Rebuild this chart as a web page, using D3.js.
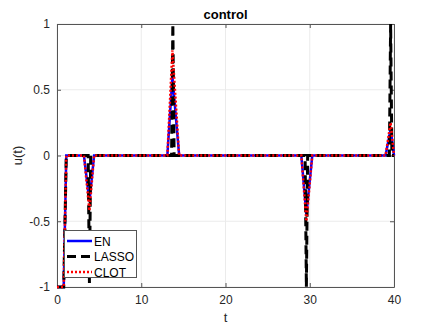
<!DOCTYPE html>
<html><head><meta charset="utf-8">
<script src="https://cdn.jsdelivr.net/npm/d3@7"></script>
<style>body{margin:0;background:#fff}svg{display:block}text{font-family:"Liberation Sans",Arial,sans-serif}</style>
</head><body>
<script>
const tValues = [0, 0.8, 1.1, 3.2, 3.85, 4.4, 13.1, 13.7, 14.5, 29.0, 29.6, 30.3, 39.0, 39.6, 40];
const enValues = [-1, -1, 0, 0, -0.35, 0, 0, 0.6, 0, 0, -0.45, 0, 0, 0.2, 0];
const clotValues = [-1, -1, 0, 0, -0.42, 0, 0, 0.8, 0, 0, -0.5, 0, 0, 0.25, 0];
const lassoT = [0, 0.8, 1.1, 3.7, 3.85, 4.0, 13.6, 13.75, 13.9, 29.45, 29.6, 29.75, 39.45, 39.6, 39.75, 40];
const lassoValues = [-1, -1, 0, 0, -0.97, 0, 0, 1, 0, 0, -1, 0, 0, 1, 0, 0];
const seriesNames = ["EN", "LASSO", "CLOT"];
const xTicks = [0, 10, 20, 30, 40];
const yTicks = [-1, -0.5, 0, 0.5, 1];
const yTickLabels = ["-1", "-0.5", "0", "0.5", "1"];

const W = 436, H = 327;
const L = 57, R = 394, T = 24, B = 287;
const svg = d3.select("body").append("svg").attr("width", W).attr("height", H);
const x = d3.scaleLinear().domain([0, 40]).range([L, R]);
const y = d3.scaleLinear().domain([-1, 1]).range([B, T]);

// grid
svg.append("g").selectAll("line").data(xTicks).join("line")
  .attr("x1", d => x(d)).attr("x2", d => x(d)).attr("y1", T).attr("y2", B)
  .attr("stroke", "#ebebeb").attr("stroke-width", 1);
svg.append("g").selectAll("line").data(yTicks).join("line")
  .attr("y1", d => y(d)).attr("y2", d => y(d)).attr("x1", L).attr("x2", R)
  .attr("stroke", "#ebebeb").attr("stroke-width", 1);

// axes
const axisColor = "#555";
const xAxis = svg.append("g").attr("transform", `translate(0,${B})`)
  .call(d3.axisBottom(x).tickValues(xTicks).tickSizeInner(-4).tickSizeOuter(0).tickPadding(8));
const yAxis = svg.append("g").attr("transform", `translate(${L},0)`)
  .call(d3.axisLeft(y).tickValues(yTicks).tickFormat((d,i)=>yTickLabels[i]).tickSizeInner(-4).tickSizeOuter(0).tickPadding(7));
const xTop = svg.append("g").attr("transform", `translate(0,${T})`)
  .call(d3.axisTop(x).tickValues(xTicks).tickSizeInner(-4).tickSizeOuter(0).tickFormat(""));
const yRight = svg.append("g").attr("transform", `translate(${R},0)`)
  .call(d3.axisRight(y).tickValues(yTicks).tickSizeInner(-4).tickSizeOuter(0).tickFormat(""));
[xAxis, yAxis, xTop, yRight].forEach(g => {
  g.select(".domain").attr("stroke", axisColor).attr("stroke-width", 1);
  g.selectAll(".tick line").attr("stroke", axisColor);
  g.selectAll(".tick text").attr("fill", "#262626").attr("font-size", 12);
});

// lines
const seriesData = [
  {t: tValues, v: enValues},
  {t: lassoT, v: lassoValues},
  {t: tValues, v: clotValues}
];
const styles = [
  {color: "#0000ff", width: 2.5, dash: null},
  {color: "#000000", width: 3, dash: "9,5"},
  {color: "#ff0000", width: 2.5, dash: "2,2"}
];
svg.append("g").selectAll("path").data(seriesData).join("path")
  .attr("d", s => d3.line().x((d, i) => x(s.t[i])).y(d => y(d))(s.v))
  .attr("fill", "none")
  .attr("stroke", (d, i) => styles[i].color)
  .attr("stroke-width", (d, i) => styles[i].width)
  .attr("stroke-dasharray", (d, i) => styles[i].dash)
  .attr("stroke-linejoin", "miter");

// title & labels
svg.append("text").attr("x", (L + R) / 2).attr("y", 19).attr("text-anchor", "middle")
  .attr("font-weight", "bold").attr("font-size", 13).attr("fill", "#000").text("control");
svg.append("text").attr("x", (L + R) / 2).attr("y", 322).attr("text-anchor", "middle")
  .attr("font-size", 13).attr("fill", "#262626").text("t");
svg.append("text").attr("transform", `translate(22,${(T + B) / 2}) rotate(-90)`).attr("text-anchor", "middle")
  .attr("font-size", 13).attr("fill", "#262626").text("u(t)");

// legend
const lg = svg.append("g");
lg.append("rect").attr("x", 64.5).attr("y", 230.5).attr("width", 72).attr("height", 47)
  .attr("fill", "#fff").attr("stroke", "#555").attr("stroke-width", 1);
seriesNames.forEach((name, i) => {
  const yy = 241 + i * 15.5;
  lg.append("line").attr("x1", 67).attr("x2", 92).attr("y1", yy).attr("y2", yy)
    .attr("stroke", styles[i].color).attr("stroke-width", styles[i].width)
    .attr("stroke-dasharray", styles[i].dash);
  lg.append("text").attr("x", 94).attr("y", yy + 4.5).attr("font-size", 12)
    .attr("fill", "#000").text(name);
});
</script>
</body></html>
